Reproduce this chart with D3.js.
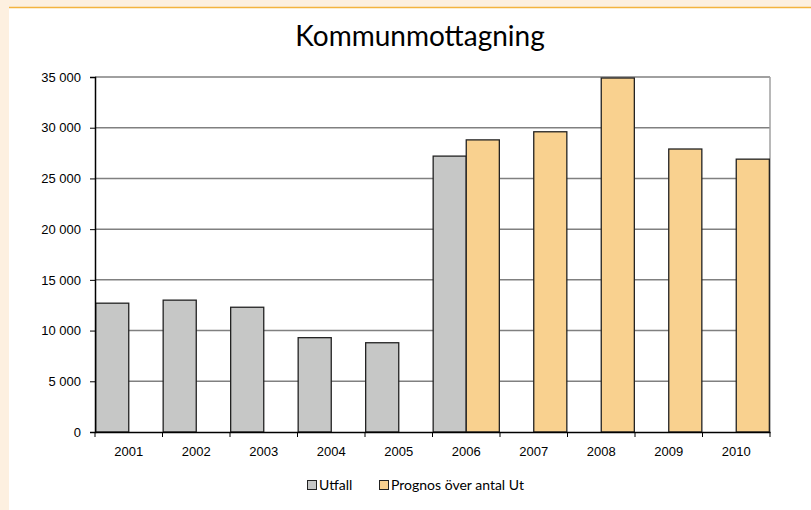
<!DOCTYPE html>
<html>
<head>
<meta charset="utf-8">
<script src="https://cdn.jsdelivr.net/npm/d3@7"></script>
<style>
  body { margin: 0; background: #fdf0e0; }
  svg { display: block; font-family: Lato, "Open Sans", sans-serif; }
</style>
</head>
<body>
<svg id="chart" width="811" height="510"></svg>
<script>
var years = ["2001", "2002", "2003", "2004", "2005", "2006", "2007", "2008", "2009", "2010"];
var utfall = [12700, 13000, 12300, 9300, 8800, 27200, null, null, null, null];
var prognos = [null, null, null, null, null, 28800, 29600, 34900, 27900, 26900];
var seriesNames = ["Utfall", "Prognos över antal Ut"];
var seriesColors = ["#c6c7c6", "#f9d18f"];
var yTicks = [0, 5000, 10000, 15000, 20000, 25000, 30000, 35000];

var svg = d3.select("#chart"),
    margin = {top: 77, left: 95, right: 41, bottom: 78},
    width = 811 - margin.left - margin.right,
    height = 510 - margin.top - margin.bottom;

// page background + white panel
svg.append("rect").attr("x", 0).attr("y", 0).attr("width", 811).attr("height", 510).attr("fill", "#fdf0e0");
svg.append("rect").attr("x", 9).attr("y", 8).attr("width", 802).attr("height", 502).attr("fill", "#ffffff");
svg.append("line").attr("x1", 9).attr("x2", 811).attr("y1", 7.5).attr("y2", 7.5)
    .attr("stroke", "#f4b33f").attr("stroke-width", 1.5);

svg.append("text")
    .attr("x", 420).attr("y", 46)
    .attr("text-anchor", "middle")
    .style("font-size", "28px")
    .style("fill", "#000")
    .text("Kommunmottagning");

var g = svg.append("g").attr("transform", "translate(" + margin.left + "," + margin.top + ")");

var x = d3.scaleBand().domain(years).range([0, width]).padding(0);
var x1 = d3.scaleBand().domain([0, 1]).range([0, x.bandwidth()]).paddingInner(0).paddingOuter(0.02);
var y = d3.scaleLinear().domain([0, 35000]).range([height, 0]);

// gridlines
g.selectAll(".grid")
    .data(yTicks.slice(1))
    .enter().append("line")
    .attr("x1", 0).attr("x2", width)
    .attr("y1", function(d) { return y(d); })
    .attr("y2", function(d) { return y(d); })
    .attr("stroke", "#808080").attr("stroke-width", 1.5);

// right border of plot
g.append("line").attr("x1", width).attr("x2", width).attr("y1", 0).attr("y2", height)
    .attr("stroke", "#a0a0a0").attr("stroke-width", 1.5);

var rows = [];
years.forEach(function(yr, i) {
    if (utfall[i] !== null) rows.push({year: yr, s: 0, v: utfall[i]});
    if (prognos[i] !== null) rows.push({year: yr, s: 1, v: prognos[i]});
});

g.selectAll(".bar")
    .data(rows)
    .enter().append("rect")
    .attr("class", "bar")
    .attr("x", function(d) { return x(d.year) + x1(d.s); })
    .attr("width", x1.bandwidth())
    .attr("y", function(d) { return y(d.v); })
    .attr("height", function(d) { return height - y(d.v); })
    .attr("fill", function(d) { return seriesColors[d.s]; })
    .attr("stroke", "#222")
    .attr("stroke-width", 1.3);

var fmt = function(d) { return d3.format(",")(d).replace(/,/g, " "); };

var yAxis = g.append("g")
    .call(d3.axisLeft(y).tickValues(yTicks).tickFormat(fmt).tickSize(5).tickPadding(9));
yAxis.select(".domain").attr("stroke", "#000").attr("stroke-width", 1.5);
yAxis.selectAll(".tick line").attr("stroke", "#000");
yAxis.selectAll("text").style("font-size", "13px").style("fill", "#000");

var xAxis = g.append("g")
    .attr("transform", "translate(0," + height + ")")
    .call(d3.axisBottom(x).tickSize(0).tickPadding(15));
xAxis.select(".domain").attr("stroke", "#000").attr("stroke-width", 1.5);
xAxis.selectAll("text").style("font-size", "13px").style("fill", "#000");

// tick marks between categories
g.selectAll(".xtick")
    .data(d3.range(years.length + 1))
    .enter().append("line")
    .attr("x1", function(d) { return d * x.step(); })
    .attr("x2", function(d) { return d * x.step(); })
    .attr("y1", height).attr("y2", height + 5)
    .attr("stroke", "#000");

// legend
var legend = svg.append("g").attr("transform", "translate(307,490)");
var legendX = [0, 72];
seriesNames.forEach(function(name, i) {
    var item = legend.append("g").attr("transform", "translate(" + legendX[i] + ",0)");
    item.append("rect").attr("x", 0.5).attr("y", -9.5).attr("width", 9).attr("height", 9)
        .attr("fill", seriesColors[i]).attr("stroke", "#222").attr("stroke-width", 1);
    item.append("text").attr("x", 12).attr("y", 0)
        .style("font-size", "14px").style("fill", "#000").text(name);
});
</script>
</body>
</html>
